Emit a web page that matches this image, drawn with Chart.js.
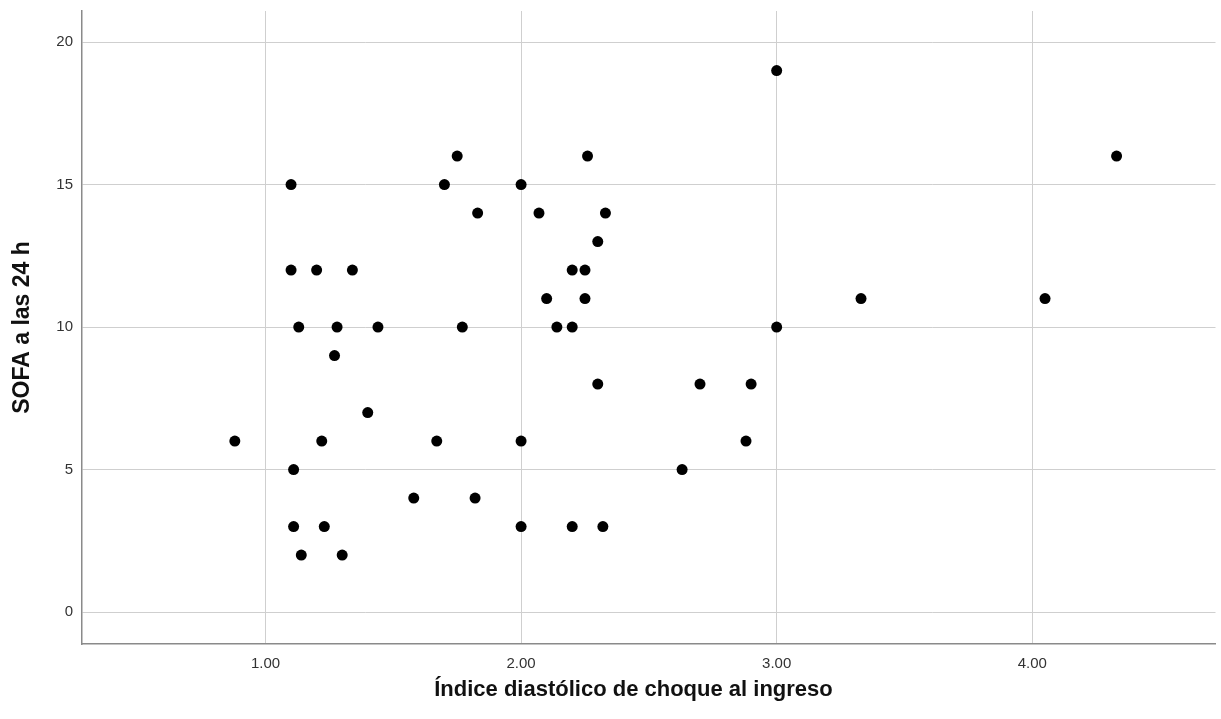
<!DOCTYPE html>
<html>
<head>
<meta charset="utf-8">
<script src="https://cdn.jsdelivr.net/npm/chart.js@4"></script>
<style>
    html, body { margin: 0; padding: 0; background: #fff; }
    #wrap { width: 1221px; height: 719px; }
</style>
</head>
<body>
<div id="wrap"><canvas id="scatterChart" width="1221" height="719"></canvas></div>
<script>
// Datos del gráfico de dispersión
const indiceDiastolico = [
    0.88, 1.10, 1.10, 1.20, 1.34, 1.13, 1.28, 1.44, 1.27, 1.22,
    1.40, 1.67, 1.11, 1.58, 1.11, 1.23, 1.14, 1.30, 1.70, 1.75,
    2.26, 2.00, 1.83, 2.07, 2.33, 2.30, 2.20, 2.25, 2.10, 2.25,
    1.77, 2.14, 2.20, 2.30, 2.00, 1.82, 2.00, 2.20, 2.32, 3.00,
    3.33, 3.00, 2.70, 2.90, 2.88, 2.63, 4.05, 4.33
];
const sofa24h = [
    6, 15, 12, 12, 12, 10, 10, 10, 9, 6,
    7, 6, 5, 4, 3, 3, 2, 2, 15, 16,
    16, 15, 14, 14, 14, 13, 12, 12, 11, 11,
    10, 10, 10, 8, 6, 4, 3, 3, 3, 19,
    11, 10, 8, 8, 6, 5, 11, 16
];
const xTicks = [1, 2, 3, 4];
const yTicks = [0, 5, 10, 15, 20];

const xTitle = 'Índice diastólico de choque al ingreso';
const yTitle = 'SOFA a las 24 h';

const points = indiceDiastolico.map((x, i) => ({ x: x, y: sofa24h[i] }));

const ctx = document.getElementById('scatterChart');

new Chart(ctx, {
    type: 'scatter',
    data: {
        datasets: [{
            data: points,
            backgroundColor: '#000',
            borderColor: '#000',
            pointRadius: 5.5,
            pointHoverRadius: 5.5,
            borderWidth: 0
        }]
    },
    options: {
        responsive: false,
        animation: false,
        layout: {
            padding: { top: 11, right: 5, left: 0, bottom: 0 }
        },
        plugins: {
            legend: { display: false },
            tooltip: { enabled: false }
        },
        scales: {
            x: {
                type: 'linear',
                min: 0.282,
                max: 4.717,
                afterBuildTicks: scale => {
                    scale.ticks = xTicks.map(v => ({ value: v }));
                },
                afterFit: scale => {
                    scale.height = 75;
                    scale.paddingLeft = 0;
                    scale.paddingRight = 0;
                },
                grid: {
                    color: '#cfcfcf',
                    lineWidth: 1,
                    drawTicks: false
                },
                border: {
                    display: true,
                    color: '#8a8a8a',
                    width: 1.5
                },
                ticks: {
                    padding: 11,
                    color: '#333',
                    font: { family: 'Liberation Sans', size: 15 },
                    callback: v => v.toFixed(2)
                },
                title: {
                    display: true,
                    // espacios finales: el título original queda algo a la izquierda del centro
                    text: xTitle + '\u00a0\u00a0\u00a0\u00a0\u00a0',
                    color: '#111',
                    font: { family: 'Liberation Sans', size: 22, weight: 'bold' },
                    padding: { top: 0, bottom: 16 }
                }
            },
            y: {
                type: 'linear',
                min: -1.12,
                max: 21.09,
                afterBuildTicks: scale => {
                    scale.ticks = yTicks.map(v => ({ value: v }));
                },
                afterFit: scale => {
                    scale.width = 82;
                    scale.paddingTop = 0;
                    scale.paddingBottom = 0;
                },
                grid: {
                    color: '#cfcfcf',
                    lineWidth: 1,
                    drawTicks: false
                },
                border: {
                    display: true,
                    color: '#8a8a8a',
                    width: 1.5
                },
                ticks: {
                    padding: 9,
                    color: '#333',
                    font: { family: 'Liberation Sans', size: 15 }
                },
                title: {
                    display: true,
                    text: yTitle,
                    color: '#111',
                    font: { family: 'Liberation Sans', size: 23, weight: 'bold' },
                    padding: { top: 9, bottom: 0 }
                }
            }
        }
    }
});
</script>
</body>
</html>
